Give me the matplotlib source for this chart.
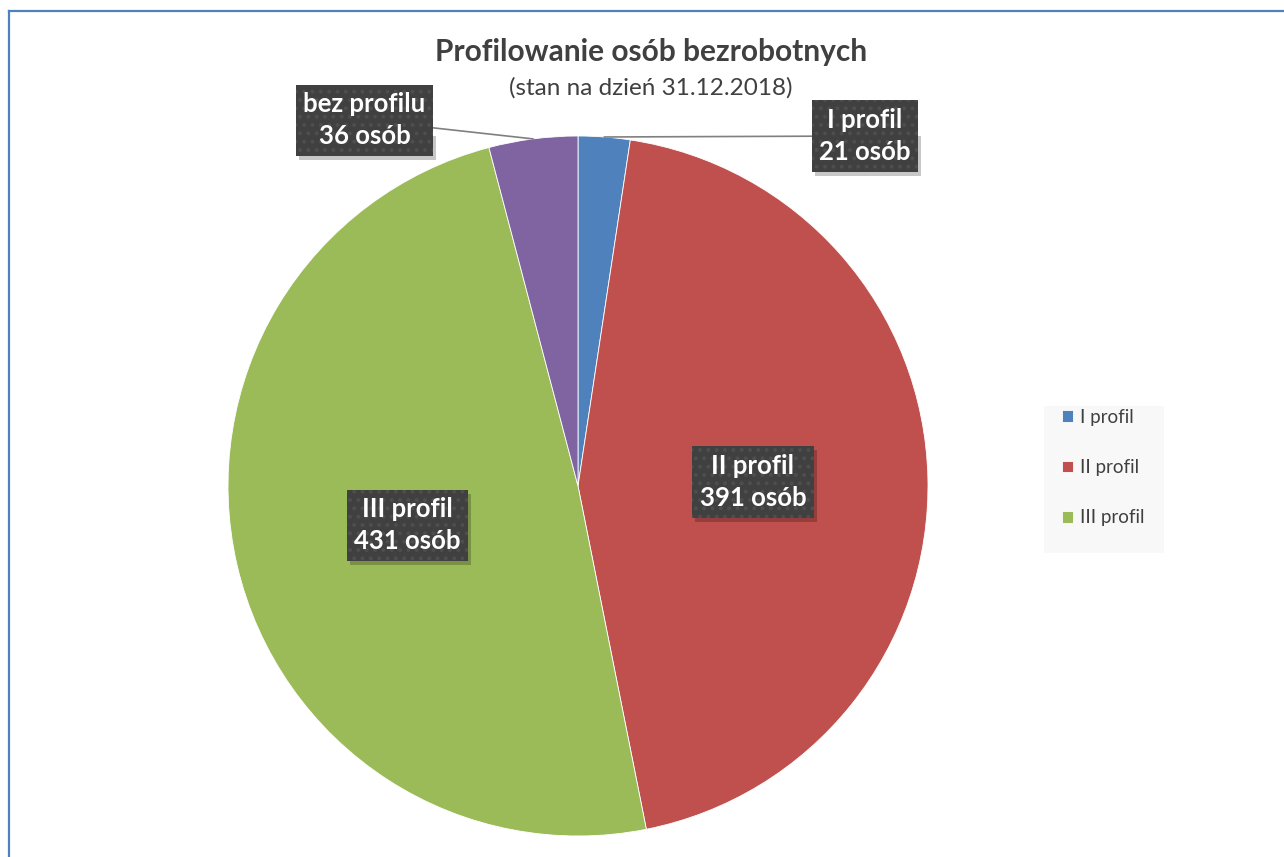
"""Profilowanie osób bezrobotnych - pie chart (stan na dzień 31.12.2018)."""

import numpy as np
import matplotlib
matplotlib.use("Agg")
import matplotlib.pyplot as plt
from matplotlib.lines import Line2D
from matplotlib.patches import Rectangle

plt.rcParams["font.family"] = ["Lato", "DejaVu Sans"]
plt.rcParams["hatch.linewidth"] = 1.6

# Data ########################################################################

categories = ["I profil", "II profil", "III profil", "bez profilu"]
counts = [21, 391, 431, 36]
legend_items = ["I profil", "II profil", "III profil"]

colors = ["#4f81bd", "#c0504d", "#9bbb59", "#8064a2"]

# label placement: None -> inside slice, otherwise (x, y) in pie units
label_pos = [(0.82, 1.0), None, None, (-0.61, 1.045)]

W, H = 1284, 857
fig = plt.figure(figsize=(W / 100, H / 100), dpi=100)

# pie axes: centre (578, 486) px, radius 350 px
cx, cy, r = 578, 486, 350
ax = fig.add_axes([(cx - r) / W, (H - cy - r) / H, 2 * r / W, 2 * r / H])

wedges, _ = ax.pie(counts, colors=colors, startangle=90, counterclock=False,
                   radius=1, wedgeprops=dict(edgecolor="white", linewidth=0.6))
ax.set_xlim(-1, 1)
ax.set_ylim(-1, 1)
ax.axis("off")

lab_kw = dict(ha="center", va="center", fontsize=18.5, fontweight="bold",
              linespacing=1.4, color="white", zorder=5)
box = dict(boxstyle="square,pad=0.3", facecolor="#404040",
           edgecolor="#4e4e4e", linewidth=0, hatch="..")

labels = []
for w, name, n, pos in zip(wedges, categories, counts, label_pos):
    ang = np.deg2rad((w.theta1 + w.theta2) / 2)
    txt = f"{name}\n{n} osób"
    if pos is None:
        t = ax.text(0.5 * np.cos(ang), 0.5 * np.sin(ang), txt, bbox=box,
                    **lab_kw)
    else:
        t = ax.annotate(txt, xy=(np.cos(ang), np.sin(ang)), xytext=pos,
                        bbox=box, annotation_clip=False,
                        arrowprops=dict(arrowstyle="-", color="#808080",
                                        lw=1.2, shrinkA=0, shrinkB=0),
                        **lab_kw)
    labels.append(t)

# soft drop shadow under each label box
fig.canvas.draw()
inv = fig.transFigure.inverted()
for t in labels:
    bb = t.get_bbox_patch().get_window_extent()
    (x0, y0), (x1, y1) = inv.transform([(bb.x0 + 3, bb.y0 - 4),
                                        (bb.x1 + 3, bb.y1 - 4)])
    ax.add_patch(Rectangle((x0, y0), x1 - x0, y1 - y0,
                           transform=fig.transFigure, facecolor="black",
                           edgecolor="none", alpha=0.22, zorder=4))

# Legend ######################################################################

fig.add_artist(Rectangle((1044 / W, 1 - 553 / H), 120 / W, 147 / H,
                         transform=fig.transFigure, facecolor="#f8f8f8",
                         edgecolor="none", zorder=0))
leg = fig.legend(wedges[:3], legend_items, loc="upper left",
                 bbox_to_anchor=(1058 / W, 1 - 405 / H), frameon=False,
                 fontsize=13.5, labelspacing=1.78, handlelength=0.6,
                 handleheight=0.6, handletextpad=0.35, borderpad=0.2,
                 borderaxespad=0)
for txt in leg.get_texts():
    txt.set_color("#404040")

# Titles ######################################################################

fig.text(651 / W, 1 - 52 / H, "Profilowanie osób bezrobotnych", ha="center",
         va="center", fontsize=21.5, fontweight="bold", color="#404040")
fig.text(651 / W, 1 - 88 / H, "(stan na dzień 31.12.2018)", ha="center",
         va="center", fontsize=17.5, color="#404040")

# Frame #######################################################################

fc = "#4f81bd"
fig.add_artist(Line2D([9 / W, 9 / W], [0, 1 - 11 / H], color=fc, lw=1.6,
                      transform=fig.transFigure))
fig.add_artist(Line2D([9 / W, 1], [1 - 11 / H, 1 - 11 / H], color=fc, lw=1.6,
                      transform=fig.transFigure))

fig.savefig("out.png", dpi=100, facecolor="white")
